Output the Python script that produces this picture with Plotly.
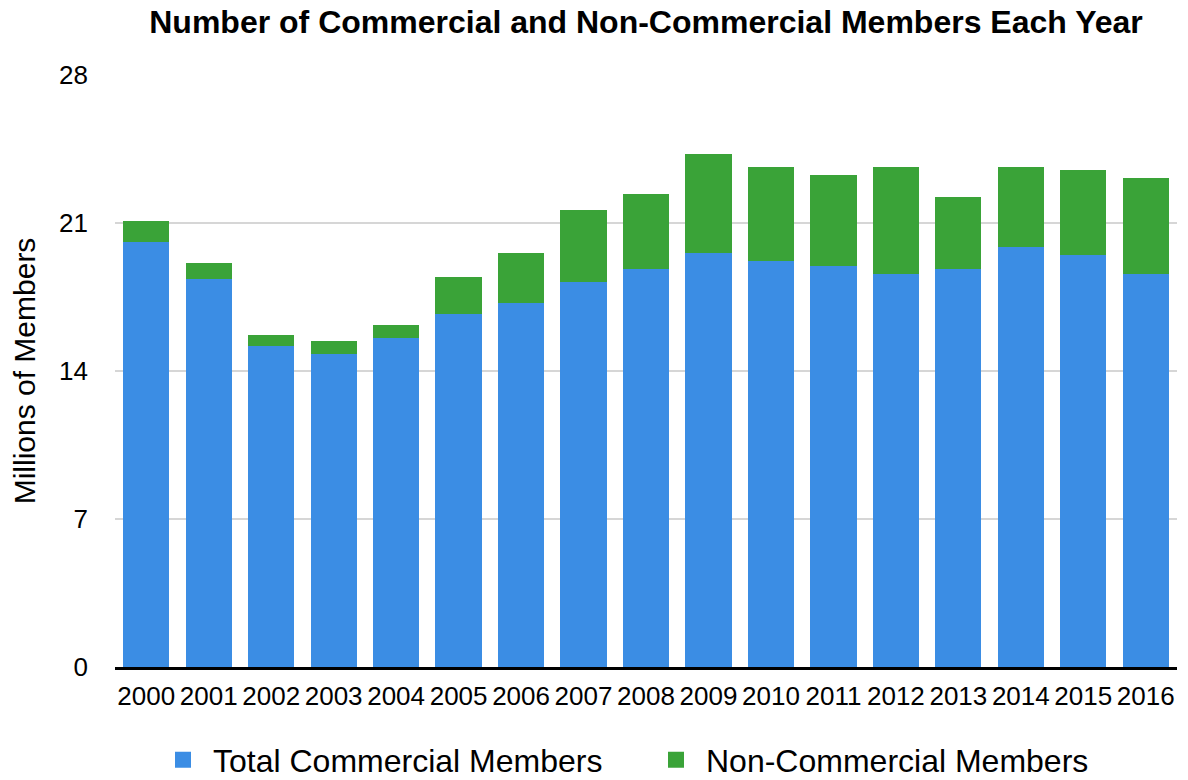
import plotly.graph_objects as go

years = [str(y) for y in range(2000, 2017)]
commercial = [20.1, 18.35, 15.18, 14.81, 15.56, 16.70, 17.22, 18.21, 18.83, 19.58,
              19.21, 18.97, 18.59, 18.83, 19.87, 19.49, 18.59]
total = [21.09, 19.11, 15.70, 15.42, 16.18, 18.45, 19.58, 21.62, 22.37, 24.27,
         23.65, 23.27, 23.65, 22.23, 23.65, 23.51, 23.13]
non_commercial = [round(t - c, 2) for t, c in zip(total, commercial)]
y_ticks = [0, 7, 14, 21, 28]
series_names = ["Total Commercial Members", "Non-Commercial Members"]
series_colors = ["#3b8de4", "#3aa338"]

FONT = "Liberation Sans, Arial, Helvetica, sans-serif"

fig = go.Figure()
for vals, name, color in zip([commercial, non_commercial], series_names, series_colors):
    fig.add_trace(go.Bar(x=years, y=vals, name=name, legendgroup=name, showlegend=False,
                         marker=dict(color=color, line=dict(width=0))))
# legend entries with larger square swatches
for name, color in zip(series_names, series_colors):
    fig.add_trace(go.Scatter(x=[None], y=[None], mode="markers", name=name,
                             legendgroup=name, showlegend=True,
                             marker=dict(symbol="square", size=26, color=color)))

fig.update_layout(
    width=1188, height=780,
    barmode="stack", bargap=0.26,
    plot_bgcolor="white", paper_bgcolor="white",
    margin=dict(l=115, r=11, t=75, b=113, autoexpand=False),
    font=dict(family=FONT, size=26, color="black"),
    title=dict(text="<b>Number of Commercial and Non-Commercial Members Each Year</b>",
               x=0.5, xref="paper", xanchor="center", y=0.972, yref="container",
               yanchor="middle", font=dict(size=32, family=FONT, color="black")),
    legend=dict(orientation="h", x=0.5, xanchor="center", y=-0.157, yanchor="middle",
                font=dict(size=32, family=FONT), itemwidth=50, itemsizing="trace",
                entrywidth=428, entrywidthmode="pixels", traceorder="normal"),
    xaxis=dict(type="category", showgrid=False, showline=True, linecolor="black",
               linewidth=3, ticks="", tickfont=dict(size=26), ticklabelstandoff=4,
               automargin=False),
    yaxis=dict(range=[0, 28], tickvals=y_ticks, showgrid=True, gridcolor="#d6d6d6",
               gridwidth=1.5, zeroline=False, ticks="", tickfont=dict(size=26),
               ticklabelstandoff=26, automargin=False,
               title=dict(text="Millions of Members", font=dict(size=30), standoff=14)),
)

fig.write_html("out.html", config={"displayModeBar": False},
               post_script="document.body.style.margin='0';document.body.style.overflow='hidden';")
